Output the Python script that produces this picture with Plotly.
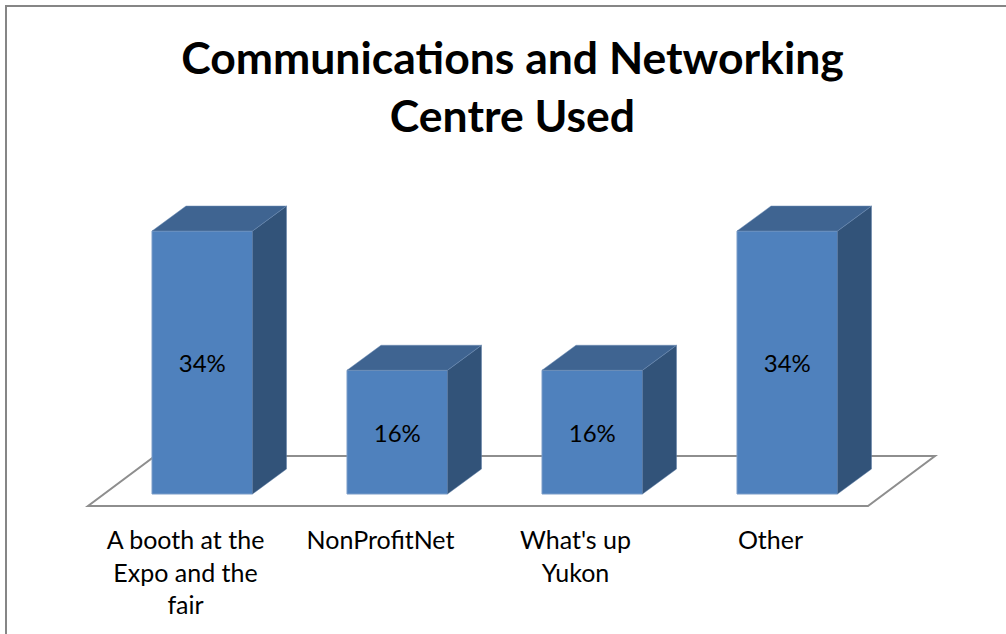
import plotly.graph_objects as go

categories = ['A booth at the<br>Expo and the<br>fair', 'NonProfitNet', "What's up<br>Yukon", 'Other']
values = [34, 16, 16, 34]
labels = ['34%', '16%', '16%', '34%']
title = 'Communications and Networking<br>Centre Used'

# pixel scale of the picture
W, H = 1006, 634
left, bottom = 78, 118
pad = 10  # room round the floor so its outline is not clipped
cat_px = 195.0
val_px = 7.735
base_px = 12  # floor front edge sits this far under the bar base

x_range = [-0.5 - pad / cat_px, (W - left - pad) / cat_px - 0.5]
y_range = [-(base_px + pad) / val_px, (H - bottom - base_px - pad) / val_px]

# bar front and depth in axis units
bar_offset = -33.5 / cat_px
bar_width = 100.5 / cat_px
depth_x = 34 / cat_px
depth_y = 25 / val_px
floor_dx = 67 / cat_px
floor_dy = 50 / val_px

side_x, side_y, top_x, top_y = [], [], [], []
for i, v in enumerate(values):
    x0 = i + bar_offset
    x1 = x0 + bar_width
    side_x += [x1, x1 + depth_x, x1 + depth_x, x1, x1, None]
    side_y += [0, depth_y, v + depth_y, v, 0, None]
    top_x += [x0, x1, x1 + depth_x, x0 + depth_x, x0, None]
    top_y += [v, v, v + depth_y, v + depth_y, v, None]

fig = go.Figure()

fig.add_trace(go.Bar(
    x=list(range(len(values))),
    y=values,
    width=bar_width,
    offset=bar_offset,
    text=labels,
    textposition='inside',
    insidetextanchor='middle',
    textangle=0,
    textfont=dict(family='Lato', size=24, color='black'),
    marker=dict(color='#4F81BD', line=dict(color='#7B9CC8', width=1)),
    hoverinfo='skip',
))
fig.add_trace(go.Scatter(
    x=side_x, y=side_y, mode='lines', fill='toself', fillcolor='#325379',
    line=dict(color='#5F7FA6', width=0.5), hoverinfo='skip',
))
fig.add_trace(go.Scatter(
    x=top_x, y=top_y, mode='lines', fill='toself', fillcolor='#3F6491',
    line=dict(color='#6C8CB4', width=0.5), hoverinfo='skip',
))

# floor of the 3d chart
y_f = -base_px / val_px
fig.add_shape(
    type='path', xref='x', yref='y', layer='below',
    path=f'M -0.5 {y_f} L 3.5 {y_f} L {3.5 + floor_dx} {y_f + floor_dy} '
         f'L {-0.5 + floor_dx} {y_f + floor_dy} Z',
    line=dict(color='#8E8E8E', width=2),
)
# chart area border, only the top and left show
plot_w = W - left
plot_h = H - bottom
bx = (6 - left) / plot_w
by = (plot_h - 6) / plot_h
fig.add_shape(
    type='path', xref='paper', yref='paper',
    path=f'M {bx} {-bottom / plot_h} L {bx} {by} L 1.0 {by}',
    line=dict(color='#868686', width=2),
)

fig.update_layout(
    width=W,
    height=H,
    autosize=False,
    margin=dict(l=left, r=0, t=0, b=bottom),
    paper_bgcolor='white',
    plot_bgcolor='white',
    showlegend=False,
    title=dict(
        text=title,
        x=512.5 / W,
        xanchor='center',
        y=1 - 74 / H,
        yanchor='middle',
        font=dict(family='Lato', size=44.5, color='black', weight='bold'),
    ),
    xaxis=dict(
        range=x_range,
        tickmode='array',
        tickvals=list(range(len(categories))),
        ticktext=categories,
        tickfont=dict(family='Lato', size=25, color='black'),
        showgrid=False,
        zeroline=False,
        showline=False,
        ticks='',
        ticklabelstandoff=7,
    ),
    yaxis=dict(range=y_range, visible=False),
)

# body margin off, the figure has to sit at the page corner
fig.write_html("out.html", config={'displayModeBar': False},
               post_script="document.body.style.margin='0';")
